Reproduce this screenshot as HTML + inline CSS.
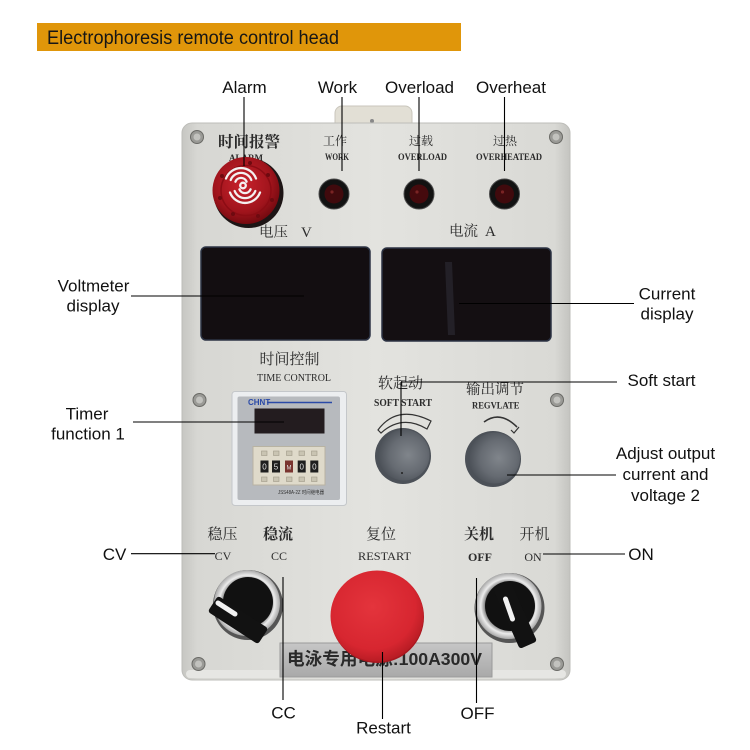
<!DOCTYPE html>
<html><head><meta charset="utf-8"><style>
html,body{margin:0;padding:0;background:#fff;}
svg{display:block;}
.l{font-family:"Liberation Sans",sans-serif;font-size:17px;fill:#111;}
.cn{font-family:"Liberation Serif","Noto Serif CJK SC",serif;fill:#2b2b2b;}
.en{font-family:"Liberation Serif",serif;fill:#2b2b2b;}
</style></head><body>
<svg width="750" height="750" viewBox="0 0 750 750" xmlns="http://www.w3.org/2000/svg">
<defs>
<linearGradient id="pg" x1="0" x2="1" y1="0" y2="0">
 <stop offset="0" stop-color="#c6c6c2"/><stop offset="0.04" stop-color="#d7d7d3"/><stop offset="0.5" stop-color="#e3e3df"/><stop offset="0.96" stop-color="#d9d9d5"/><stop offset="1" stop-color="#c4c4c0"/>
</linearGradient>
<radialGradient id="red" cx="0.45" cy="0.4" r="0.6">
 <stop offset="0" stop-color="#c8222c"/><stop offset="0.7" stop-color="#a0141c"/><stop offset="1" stop-color="#760a10"/>
</radialGradient>
<radialGradient id="knob" cx="0.58" cy="0.5" r="0.6">
 <stop offset="0" stop-color="#80858b"/><stop offset="0.6" stop-color="#666b72"/><stop offset="1" stop-color="#4a4f56"/>
</radialGradient>
<radialGradient id="silver" cx="0.5" cy="0.5" r="0.5">
 <stop offset="0.72" stop-color="#8a8a8a"/><stop offset="0.84" stop-color="#ececec"/><stop offset="1" stop-color="#a8a8a8"/>
</radialGradient>
<radialGradient id="btn" cx="0.45" cy="0.4" r="0.62">
 <stop offset="0" stop-color="#e4343c"/><stop offset="0.75" stop-color="#d72630"/><stop offset="1" stop-color="#b51b23"/>
</radialGradient>
<linearGradient id="plate" x1="0" x2="0" y1="0" y2="1">
 <stop offset="0" stop-color="#c6c6c6"/><stop offset="1" stop-color="#a9a9a9"/>
</linearGradient>
</defs>

<!-- header -->
<rect x="37" y="23" width="424" height="28" fill="#e0960a"/>
<text x="47" y="44" font-family="Liberation Sans, sans-serif" font-size="19" fill="#161616" textLength="292" lengthAdjust="spacingAndGlyphs">Electrophoresis remote control head</text>

<!-- tab -->
<rect x="335" y="106" width="77" height="30" rx="7" fill="#e2dfd5" stroke="#c9c6bc"/>
<circle cx="372" cy="121" r="2" fill="#888"/>

<!-- panel -->
<rect x="182" y="123" width="388" height="557" rx="10" fill="url(#pg)" stroke="#bdbdb9"/>
<rect x="186" y="670" width="380" height="8" rx="4" fill="#e6e6e3"/>

<!-- screws -->
<g fill="#9a9a96" stroke="#6a6a66" stroke-width="1">
<circle cx="197" cy="137" r="6.5"/><circle cx="556" cy="137" r="6.5"/>
<circle cx="199.5" cy="400" r="6.5"/><circle cx="557" cy="400" r="6.5"/>
<circle cx="198.5" cy="664" r="6.5"/><circle cx="557" cy="664" r="6.5"/>
</g>
<g fill="#c2c2be">
<circle cx="197" cy="137" r="3.5"/><circle cx="556" cy="137" r="3.5"/>
<circle cx="199.5" cy="400" r="3.5"/><circle cx="557" cy="400" r="3.5"/>
<circle cx="198.5" cy="664" r="3.5"/><circle cx="557" cy="664" r="3.5"/>
</g>

<!-- top labels on panel -->
<text class="cn" x="218" y="147" font-size="15.5" font-weight="bold" textLength="62" lengthAdjust="spacingAndGlyphs">时间报警</text>
<text class="en" x="246" y="161" font-size="9" font-weight="bold" text-anchor="middle">ALARM</text>
<text class="cn" x="335" y="145" font-size="12" text-anchor="middle">工作</text>
<text class="en" x="325" y="160" font-size="9.5" font-weight="bold" textLength="24" lengthAdjust="spacingAndGlyphs">WORK</text>
<text class="cn" x="421" y="145" font-size="12" text-anchor="middle">过载</text>
<text class="en" x="398" y="160" font-size="9.5" font-weight="bold" textLength="49" lengthAdjust="spacingAndGlyphs">OVERLOAD</text>
<text class="cn" x="505" y="145" font-size="12" text-anchor="middle">过热</text>
<text class="en" x="476" y="160" font-size="9.5" font-weight="bold" textLength="66" lengthAdjust="spacingAndGlyphs">OVERHEATEAD</text>

<!-- alarm -->
<circle cx="248.5" cy="193" r="35" fill="#1d1515"/>
<circle cx="246" cy="190.5" r="33.5" fill="url(#red)"/>
<circle cx="246" cy="190.5" r="25" fill="none" stroke="#8c0c14" stroke-width="1.5"/>
<g fill="#6e0a10">
<circle cx="222" cy="176" r="2"/><circle cx="220" cy="198" r="2"/><circle cx="233" cy="214" r="2"/><circle cx="258" cy="216" r="2"/><circle cx="272" cy="200" r="2"/><circle cx="268" cy="175" r="2"/><circle cx="250" cy="163" r="2"/>
</g>
<g fill="none" stroke="#f4f0f0" stroke-width="2.3" stroke-linecap="round">
<path d="M235.4,181.7 A6,6 0 0 1 246.6,181.7"/>
<path d="M230.7,180 A11,11 0 0 1 251.3,180"/>
<path d="M226,178.5 A16,16 0 0 1 256,178.5"/>
<path d="M250.6,189.3 A6,6 0 0 1 239.4,189.3"/>
<path d="M255.3,191 A11,11 0 0 1 234.7,191"/>
<path d="M260,192.5 A16,16 0 0 1 230,192.5"/>
<circle cx="243" cy="185.5" r="2.8"/>
</g>

<!-- LEDs -->
<g>
<circle cx="334" cy="194" r="15" fill="#121212" stroke="#4a4a4a"/>
<circle cx="334" cy="194" r="9.5" fill="#400a0d"/>
<circle cx="332" cy="192" r="1.6" fill="#7a2424"/>
<circle cx="419" cy="194" r="15" fill="#121212" stroke="#4a4a4a"/>
<circle cx="419" cy="194" r="9.5" fill="#450a0d"/>
<circle cx="417" cy="192" r="1.6" fill="#7a2424"/>
<circle cx="504.5" cy="194" r="15" fill="#121212" stroke="#4a4a4a"/>
<circle cx="504.5" cy="194" r="9.5" fill="#400a0d"/>
<circle cx="502.5" cy="192" r="1.6" fill="#7a2424"/>
</g>

<!-- display labels -->
<text class="cn" x="259" y="237" font-size="14.5">电压</text>
<text class="en" x="301" y="237" font-size="15">V</text>
<text class="cn" x="449" y="236" font-size="14.5">电流</text>
<text class="en" x="485" y="236" font-size="15">A</text>

<!-- displays -->
<rect x="201" y="247" width="169" height="93" rx="5" fill="#130e11" stroke="#2c3344" stroke-width="1.5"/>
<rect x="382" y="248" width="169" height="93" rx="5" fill="#140f12" stroke="#2c3344" stroke-width="1.5"/>
<path d="M445,262 L452,262 L455,335 L448,335 Z" fill="#2a2830" opacity="0.7"/>

<!-- timer section -->
<text class="cn" x="289.5" y="364" font-size="15" text-anchor="middle" textLength="60" lengthAdjust="spacingAndGlyphs">时间控制</text>
<text class="en" x="257" y="381" font-size="10" textLength="74" lengthAdjust="spacingAndGlyphs">TIME CONTROL</text>
<rect x="232" y="391.5" width="114.5" height="114" rx="3" fill="#eceef0" stroke="#c4c7ca"/>
<rect x="237.5" y="396.5" width="102.5" height="103.5" rx="2" fill="#b7babe"/>
<text x="248" y="405" font-family="Liberation Sans, sans-serif" font-size="8" font-weight="bold" fill="#2a4aa8">CHNT</text>
<line x1="267" y1="402.5" x2="332" y2="402.5" stroke="#2a4aa8" stroke-width="1.5"/>
<rect x="254.5" y="408.5" width="70" height="25" fill="#231c1f"/>
<rect x="253" y="446.5" width="72" height="38.5" fill="#dfdaca" stroke="#b8b3a2"/>
<g fill="#c9c4b2" stroke="#9f9a88" stroke-width="0.6">
<rect x="261.5" y="451" width="5.5" height="4.5"/><rect x="273.5" y="451" width="5.5" height="4.5"/><rect x="286.5" y="451" width="5.5" height="4.5"/><rect x="299" y="451" width="5.5" height="4.5"/><rect x="311.5" y="451" width="5.5" height="4.5"/>
<rect x="261.5" y="477" width="5.5" height="4.5"/><rect x="273.5" y="477" width="5.5" height="4.5"/><rect x="286.5" y="477" width="5.5" height="4.5"/><rect x="299" y="477" width="5.5" height="4.5"/><rect x="311.5" y="477" width="5.5" height="4.5"/>
</g>
<g>
<rect x="260.5" y="460.5" width="8" height="12" fill="#1e1e1e"/>
<rect x="272" y="460.5" width="8" height="12" fill="#1e1e1e"/>
<rect x="285" y="460.5" width="8" height="12" fill="#7a3530"/>
<rect x="297.7" y="460.5" width="8" height="12" fill="#1e1e1e"/>
<rect x="310.3" y="460.5" width="8" height="12" fill="#1e1e1e"/>
</g>
<g font-family="Liberation Sans, sans-serif" font-size="8" fill="#e0e0e0" text-anchor="middle">
<text x="264.5" y="469.5">0</text><text x="276" y="469.5">5</text><text x="289" y="469.5" font-size="6">M</text><text x="301.7" y="469.5">0</text><text x="314.3" y="469.5">0</text>
</g>
<text x="278" y="494" font-family="Liberation Sans, &quot;Noto Sans CJK SC&quot;, sans-serif" font-size="5" fill="#333" textLength="46" lengthAdjust="spacingAndGlyphs">JSS48A-2Z 时间继电器</text>

<!-- soft start / regulate -->
<text class="cn" x="378" y="388" font-size="15" textLength="45" lengthAdjust="spacingAndGlyphs">软起动</text>
<text class="en" x="374" y="406" font-size="10" font-weight="bold" textLength="58" lengthAdjust="spacingAndGlyphs">SOFT START</text>
<text class="cn" x="466" y="394" font-size="14.5" textLength="58" lengthAdjust="spacingAndGlyphs">输出调节</text>
<text class="en" x="472" y="408.5" font-size="9.5" font-weight="bold" textLength="47.5" lengthAdjust="spacingAndGlyphs">REGVLATE</text>
<path d="M378,430 Q397,404 431,421 L427,429 Q402,414 381,433 Z" fill="none" stroke="#333" stroke-width="1.2"/>
<path d="M484,422 Q500,410 517,427" fill="none" stroke="#333" stroke-width="1.6"/>
<path d="M511,430 L514,433 L519,427" fill="none" stroke="#333" stroke-width="1.2"/>
<circle cx="403" cy="456" r="28" fill="#4c5158"/>
<circle cx="404" cy="455" r="25.5" fill="url(#knob)"/>
<circle cx="402" cy="473" r="1" fill="#222"/>
<circle cx="493" cy="459" r="28" fill="#4c5158"/>
<circle cx="494.5" cy="458" r="25.5" fill="url(#knob)"/>

<!-- bottom labels -->
<text class="cn" x="222.5" y="539" font-size="15" text-anchor="middle">稳压</text>
<text class="cn" x="278" y="539" font-size="15" text-anchor="middle" font-weight="bold">稳流</text>
<text class="cn" x="381" y="539" font-size="15" text-anchor="middle">复位</text>
<text class="cn" x="479" y="539" font-size="15" text-anchor="middle" font-weight="bold">关机</text>
<text class="cn" x="534.5" y="539" font-size="15" text-anchor="middle">开机</text>
<text class="en" x="223" y="560" font-size="12" text-anchor="middle">CV</text>
<text class="en" x="279" y="560" font-size="12" text-anchor="middle">CC</text>
<text class="en" x="384.5" y="560" font-size="12" text-anchor="middle" textLength="53" lengthAdjust="spacingAndGlyphs">RESTART</text>
<text class="en" x="480" y="561" font-size="12" font-weight="bold" text-anchor="middle">OFF</text>
<text class="en" x="533" y="561" font-size="12" text-anchor="middle">ON</text>

<!-- nameplate -->
<rect x="280" y="643" width="212" height="34" fill="url(#plate)" stroke="#9a9a9a"/>
<text x="287" y="665" font-family="Liberation Sans, &quot;Noto Sans CJK SC&quot;, sans-serif" font-size="17.5" font-weight="bold" fill="#2a2a2a" textLength="195" lengthAdjust="spacingAndGlyphs">电泳专用电源:100A300V</text>

<!-- CV/CC switch -->
<circle cx="248" cy="605" r="35" fill="#555"/>
<circle cx="247" cy="603" r="33" fill="url(#silver)"/>
<circle cx="248" cy="602" r="25" fill="#111"/>
<g transform="translate(238,620) rotate(33)">
<rect x="-30" y="-9.5" width="60" height="19" rx="3" fill="#121212"/>
</g>
<line x1="218" y1="603" x2="235" y2="614" stroke="#f2f2f2" stroke-width="5" stroke-linecap="round"/>

<!-- restart button -->
<ellipse cx="377.5" cy="617" rx="46.5" ry="46" fill="#a8161e"/>
<ellipse cx="377" cy="616" rx="46.5" ry="45.5" fill="url(#btn)"/>

<!-- OFF/ON switch -->
<circle cx="509.5" cy="608" r="35" fill="#555"/>
<circle cx="508.5" cy="606" r="33" fill="url(#silver)"/>
<circle cx="510" cy="606" r="25" fill="#111"/>
<g transform="translate(515,615) rotate(66)">
<rect x="-33" y="-9.5" width="66" height="19" rx="3" fill="#121212"/>
</g>
<line x1="505.5" y1="599" x2="512.5" y2="619" stroke="#f2f2f2" stroke-width="5" stroke-linecap="round"/>

<!-- annotation lines -->
<g stroke="#000" stroke-width="1.1" fill="none">
<line x1="244" y1="97" x2="244" y2="166"/>
<line x1="342" y1="97" x2="342" y2="171"/>
<line x1="419" y1="97" x2="419" y2="171"/>
<line x1="504.5" y1="97" x2="504.5" y2="171"/>
<line x1="131" y1="296" x2="304" y2="296"/>
<line x1="459" y1="303.5" x2="634" y2="303.5"/>
<line x1="133" y1="422" x2="284" y2="422"/>
<line x1="401" y1="382" x2="617" y2="382"/>
<line x1="401" y1="382" x2="401" y2="436"/>
<line x1="507" y1="475" x2="616" y2="475"/>
<line x1="131" y1="553.7" x2="215" y2="553.7"/>
<line x1="543" y1="554" x2="625" y2="554"/>
<line x1="283" y1="577" x2="283" y2="700"/>
<line x1="382.5" y1="652" x2="382.5" y2="719"/>
<line x1="476.5" y1="578" x2="476.5" y2="703"/>
</g>

<!-- annotation labels -->
<text class="l" x="244.5" y="93" text-anchor="middle">Alarm</text>
<text class="l" x="337.5" y="93" text-anchor="middle">Work</text>
<text class="l" x="419.5" y="93" text-anchor="middle">Overload</text>
<text class="l" x="511" y="93" text-anchor="middle">Overheat</text>
<text class="l" x="93.5" y="291.5" text-anchor="middle">Voltmeter</text>
<text class="l" x="93" y="311.5" text-anchor="middle">display</text>
<text class="l" x="667" y="299.5" text-anchor="middle">Current</text>
<text class="l" x="667" y="319.5" text-anchor="middle">display</text>
<text class="l" x="87" y="419.5" text-anchor="middle">Timer</text>
<text class="l" x="88" y="439.5" text-anchor="middle">function 1</text>
<text class="l" x="661.5" y="386" text-anchor="middle">Soft start</text>
<text class="l" x="665.5" y="459" text-anchor="middle">Adjust output</text>
<text class="l" x="665.5" y="480" text-anchor="middle">current and</text>
<text class="l" x="665.5" y="501" text-anchor="middle">voltage 2</text>
<text class="l" x="114.5" y="560" text-anchor="middle">CV</text>
<text class="l" x="641" y="560" text-anchor="middle">ON</text>
<text class="l" x="283.5" y="718.5" text-anchor="middle">CC</text>
<text class="l" x="383.5" y="733.5" text-anchor="middle">Restart</text>
<text class="l" x="477.5" y="719" text-anchor="middle">OFF</text>
</svg>
</body></html>
